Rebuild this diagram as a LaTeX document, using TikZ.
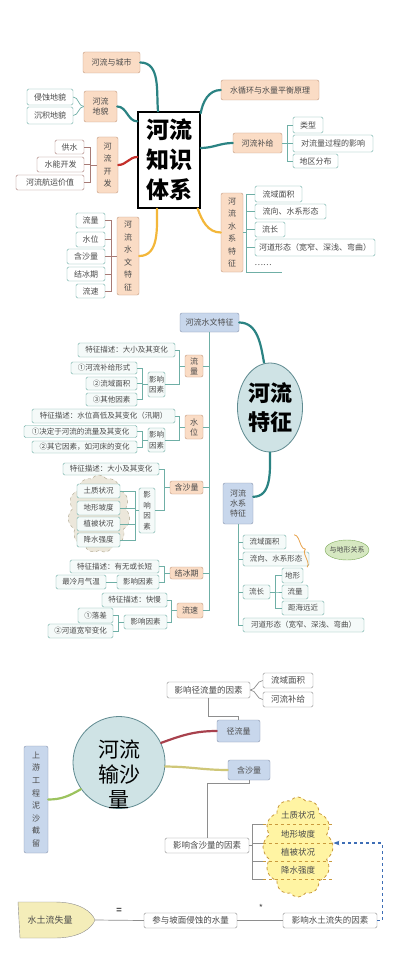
\documentclass[tikz,border=0pt]{standalone}
\usepackage{fontspec}
\setmainfont{Noto Sans CJK SC}
\usepackage{xcolor}
\usepackage{tikz}
\usetikzlibrary{shapes.geometric, shapes.symbols, arrows.meta, positioning, calc, decorations.pathreplacing}

\definecolor{texto}{HTML}{4A4A4A}
\definecolor{pessego}{HTML}{FADCC5}
\definecolor{pessegoborda}{HTML}{C39A7E}
\definecolor{verdeagua}{HTML}{6FAFA6}
\definecolor{folhafundo}{HTML}{F5FAF9}
\definecolor{vinhoborda}{HTML}{A77B76}
\definecolor{azulfundo}{HTML}{C8D7EC}
\definecolor{azulborda}{HTML}{8795AE}
\definecolor{cinzaborda}{HTML}{8E8E8E}
\definecolor{ramoteal}{HTML}{2B8383}
\definecolor{ramovermelho}{HTML}{C4302B}
\definecolor{ramoamarelo}{HTML}{F3B73A}
\definecolor{nuvemfundo}{HTML}{ECE7DB}
\definecolor{nuvemborda}{HTML}{ACA38B}
\definecolor{nuvemamarela}{HTML}{FFF4A3}
\definecolor{nuvemamarelaborda}{HTML}{C99A3D}
\definecolor{verdefundo}{HTML}{D6E8C1}
\definecolor{verdeborda}{HTML}{7FAA5C}
\definecolor{circulofundo}{HTML}{CFE3E5}
\definecolor{circuloborda}{HTML}{5F8A90}
\definecolor{chaveborda}{HTML}{E8A24A}
\definecolor{perdafundo}{HTML}{F4EDB9}
\definecolor{setaazul}{HTML}{3E6EB6}
\definecolor{ramovinho}{HTML}{A8414D}
\definecolor{ramooliva}{HTML}{CFC778}
\definecolor{ramoverde}{HTML}{9CC35E}

\begin{document}
\begin{tikzpicture}[x=1pt, y=-1pt,
        every node/.style={align=center, font=\fontsize{8}{10}\selectfont, text=texto, inner sep=1pt},
        vert/.style={font=\fontsize{8}{12.5}\selectfont},
        raiz/.style={draw=black, line width=1.3pt, fill=white, text=black},
        ramo/.style={draw=pessegoborda, fill=pessego, rounded corners=2pt},
        folha/.style={draw=verdeagua, fill=white, rounded corners=1.5pt},
        folhav/.style={draw=vinhoborda, fill=white, rounded corners=1.5pt},
        folhap/.style={draw=verdeagua, fill=folhafundo, rounded corners=1.5pt, font=\fontsize{7.5}{10.5}\selectfont},
        azul/.style={draw=azulborda, fill=azulfundo, rounded corners=2pt},
        cinza/.style={draw=cinzaborda, fill=white, rounded corners=1.5pt, font=\fontsize{8.5}{10}\selectfont},
        nuvem/.style={cloud, cloud puffs=11, cloud puff arc=110, aspect=0.8, draw=nuvemborda, dashed, fill=nuvemfundo},
        nuvemb/.style={cloud, cloud puffs=12, cloud puff arc=110, aspect=0.7, draw=nuvemamarelaborda, dashed, thick, fill=nuvemamarela},
        galho/.style={line width=2.2pt, line cap=round},
        fio/.style={draw=verdeagua, line width=0.7pt},
        fiov/.style={draw=vinhoborda, line width=0.7pt},
        fioc/.style={draw=cinzaborda, line width=0.7pt},
        seta/.style={-{Stealth[length=6pt]}, setaazul, dashed, line width=1.3pt}
    ]
    \fill[white] (0,0) rectangle (401,960);
    \useasboundingbox (0,0) rectangle (401,960);

    % mapa geral
    \node[raiz, minimum width=62, minimum height=96, font=\fontsize{23}{30}\selectfont\bfseries] (sistema) at (169,160) {河流\\知识\\体系};
    \node[ramo, minimum width=57, minimum height=21] (cidade) at (111.5,62.5) {河流与城市};
    \node[ramo, minimum width=33, minimum height=31] (relevo) at (100.5,106.5) {河流\\地貌};
    \node[folha, minimum width=46, minimum height=16] (erosao) at (50,97) {侵蚀地貌};
    \node[folha, minimum width=46, minimum height=17] (deposito) at (50,115.5) {沉积地貌};
    \node[ramo, vert, minimum width=21, minimum height=56] (uso) at (107.5,165) {河\\流\\开\\发};
    \node[folhav, minimum width=29, minimum height=14] (agua) at (69.5,147) {供水};
    \node[folhav, minimum width=47, minimum height=15] (energia) at (60.5,164.5) {水能开发};
    \node[folhav, minimum width=68, minimum height=15] (navega) at (50,182.5) {河流航运价值};
    \node[ramo, vert, minimum width=22, minimum height=78] (hidro) at (128,256) {河\\流\\水\\文\\特\\征};
    \node[folha, minimum width=29, minimum height=15] (vazao) at (90.5,220.5) {流量};
    \node[folha, minimum width=29, minimum height=15] (nivel) at (90.5,239.5) {水位};
    \node[folha, minimum width=38, minimum height=15] (sedim) at (86,256.5) {含沙量};
    \node[folha, minimum width=38, minimum height=14] (gelo) at (86,274) {结冰期};
    \node[folha, minimum width=29, minimum height=14] (veloc) at (90.5,291) {流速};
    \node[ramo, minimum width=98, minimum height=20] (ciclo) at (270,90) {水循环与水量平衡原理};
    \node[ramo, minimum width=49, minimum height=20] (recarga) at (257.5,143) {河流补给};
    \node[folha, minimum width=30, minimum height=16] (tipo) at (308,125) {类型};
    \node[folha, minimum width=80, minimum height=17] (efeito) at (333,143.5) {对流量过程的影响};
    \node[folha, minimum width=45, minimum height=14] (regiao) at (315.5,161) {地区分布};
    \node[ramo, vert, minimum width=22, minimum height=79] (sistemas) at (232,232.5) {河\\流\\水\\系\\特\\征};
    \node[folha, minimum width=47, minimum height=16] (area) at (278.5,194) {流域面积};
    \node[folha, minimum width=71, minimum height=15] (direcao) at (290.5,211.5) {流向、水系形态};
    \node[folha, minimum width=30, minimum height=15] (compr) at (270,229.5) {流长};
    \node[folha, minimum width=120, minimum height=17] (canal) at (315,247.5) {河道形态（宽窄、深浅、弯曲）};
    \node (etc) at (263,265) {……};
    \coordinate (fimetc) at (282,272);

    \draw[galho, ramoteal] (cidade.east) to[out=0, in=95] ($(sistema.north)+(-11,0)$);
    \draw[galho, ramoteal] (relevo.east) to[out=0, in=180] ($(sistema.north west)+(0,10)$);
    \draw[galho, ramovermelho] (uso.east) to[out=0, in=180] ($(sistema.west)+(0,-3)$);
    \draw[galho, ramoamarelo] (hidro.east) to[out=0, in=-90] ($(sistema.south)+(-12,0)$);
    \draw[galho, ramoteal] ($(sistema.north east)+(0,2)$) to[out=80, in=180] (ciclo.west);
    \draw[galho, ramoteal] ($(sistema.east)+(0,-12)$) to[out=0, in=180] (recarga.west);
    \draw[galho, ramoamarelo] ($(sistema.south east)+(-3,0)$) to[out=-70, in=180] (sistemas.west);
    \foreach \n in {erosao, deposito}
        \draw[fio] (\n.east) to[out=0, in=180] (relevo.west);
    \foreach \n in {agua, energia, navega}
        \draw[fiov] (\n.east) -- ++(6,0) |- (uso.west);
    \foreach \n in {vazao, nivel, sedim, gelo, veloc}
        \draw[fiov] (\n.east) -- ++(6,0) |- (hidro.west);
    \foreach \n in {tipo, efeito, regiao}
        \draw[fio] (recarga.east) -- ++(5,0) |- (\n.west);
    \draw[fio] (sistemas.east) -- ++(4,0);
    \foreach \n in {area, direcao, compr, canal}
        \draw[fio] (\n.west) -- ++(-8,0);
    \draw[fio] ($(area.west)+(-8,0)$) |- (fimetc);

    % caracteristicas
    \node[azul, minimum width=59, minimum height=19] (cabeca) at (209.5,322.5) {河流水文特征};
    \node[ellipse, draw=circuloborda, fill=circulofundo, thick, minimum width=65, minimum height=89, text=black,
        font=\fontsize{22}{29}\selectfont\bfseries] (carac) at (270,407.5) {河流\\特征};
    \node[ramo, font=\fontsize{8}{10}\selectfont, minimum width=18, minimum height=22] (vazao2) at (194,366) {流\\量};
    \node[ramo, font=\fontsize{8}{10}\selectfont, minimum width=18, minimum height=24] (nivel2) at (194,427) {水\\位};
    \node[ramo, minimum width=33, minimum height=13] (sed2) at (186.5,487.5) {含沙量};
    \node[ramo, minimum width=33, minimum height=12] (gelo2) at (186.5,573) {结冰期};
    \node[ramo, minimum width=26, minimum height=15] (velo2) at (190,610.5) {流速};

    \node[folhap, minimum width=97, minimum height=14] (d1) at (126.5,350) {特征描述：大小及其变化};
    \node[folhap, minimum width=66, minimum height=12] (f11) at (104,368) {①河流补给形式};
    \node[folhap, minimum width=51, minimum height=13] (f12) at (111.5,383.5) {②流域面积};
    \node[folhap, minimum width=51, minimum height=13] (f13) at (111.5,399.5) {③其他因素};
    \node[folhap, minimum width=17, minimum height=25] (i1) at (156.5,384.5) {影响\\因素};

    \node[folhap, minimum width=143, minimum height=14] (d2) at (103.5,416) {特征描述：水位高低及其变化（汛期）};
    \node[folhap, minimum width=113, minimum height=12] (f21) at (80.5,431.5) {①决定于河流的流量及其变化};
    \node[folhap, minimum width=105, minimum height=12] (f22) at (84.5,447) {②其它因素，如河床的变化};
    \node[folhap, minimum width=17, minimum height=24] (i2) at (156.5,440) {影响\\因素};

    \node[folhap, minimum width=96, minimum height=12] (d3) at (111,469) {特征描述：大小及其变化};
    \node[nuvem, minimum width=62, minimum height=78] (nuv1) at (99,514) {};
    \node[folhap, minimum width=43, minimum height=14] (s1) at (98.5,491) {土质状况};
    \node[folhap, minimum width=43, minimum height=14] (s2) at (98.5,508) {地形坡度};
    \node[folhap, minimum width=43, minimum height=14] (s3) at (98.5,524) {植被状况};
    \node[folhap, minimum width=43, minimum height=14] (s4) at (98.5,540) {降水强度};
    \node[folhap, minimum width=16, minimum height=45] (i3) at (147,510.5) {影\\响\\因\\素};

    \node[folhap, minimum width=89, minimum height=13] (d4) at (114.5,566.5) {特征描述：有无或长短};
    \node[folhap, minimum width=50, minimum height=14] (t4) at (81,582) {最冷月气温};
    \node[folhap, minimum width=42, minimum height=14] (i4) at (138,582) {影响因素};

    \node[folhap, minimum width=65, minimum height=14] (d5) at (134.5,600) {特征描述：快慢};
    \node[folhap, minimum width=35, minimum height=15] (q1) at (95.5,615.5) {①落差};
    \node[folhap, minimum width=65, minimum height=14] (q2) at (80.5,631) {②河道宽窄变化};
    \node[folhap, minimum width=43, minimum height=14] (i5) at (145.5,622) {影响因素};

    \node[azul, minimum width=30, minimum height=41] (rede) at (238,503.5) {河流\\水系\\特征};
    \node[folhap, minimum width=43, minimum height=14] (area2) at (264.5,542) {流域面积};
    \node[folhap, minimum width=66, minimum height=14] (dir2) at (276,559) {流向、水系形态};
    \node[folhap, minimum width=27, minimum height=14] (comp2) at (256.5,592) {流长};
    \node[folhap, minimum width=21, minimum height=15] (g1) at (292.5,575.5) {地形};
    \node[folhap, minimum width=26, minimum height=14] (g2) at (295,592) {流量};
    \node[folhap, minimum width=42, minimum height=14] (g3) at (303,608) {距海远近};
    \node[folhap, minimum width=121, minimum height=14] (canal2) at (303.5,625) {河道形态（宽窄、深浅、弯曲）};
    \node[ellipse, draw=verdeborda, fill=verdefundo, inner xsep=-2pt, minimum width=42, minimum height=20,
        font=\fontsize{7}{8}\selectfont] (relacao) at (347,550) {与地形关系};
    \draw[chaveborda, thick, decorate, decoration={brace, amplitude=5pt}]
        ($(area2.north east)+(8,0)$) -- ($(dir2.south east)+(-2,1)$);

    \draw[galho, ramoteal] (cabeca.east) to[out=0, in=100] ($(carac.north)+(-6,0)$);
    \draw[galho, ramoteal] (carac.south) to[out=-90, in=0] ($(rede.north east)+(0,14)$);
    \draw[fio] (cabeca.south) -- (cabeca.south |- velo2.east);
    \foreach \n in {vazao2, nivel2, sed2, gelo2, velo2}
        \draw[fio] (\n.east) -- (cabeca.south |- \n.east);
    \foreach \a/\b in {d1/vazao2, i1/vazao2, d2/nivel2, i2/nivel2, d3/sed2, d4/gelo2, i4/gelo2, d5/velo2, i5/velo2}
        \draw[fio] (\a.east) -| ($(\b.west)+(-5,0)$) -- (\b.west);
    \draw[fio] (i3.east) -| ($(sed2.west)+(-5,0)$) -- (sed2.west);
    \foreach \a/\b in {f11/i1, f12/i1, f13/i1, f21/i2, f22/i2, q1/i5, q2/i5}
        \draw[fio] (\a.east) -| ($(\b.west)+(-5,0)$) -- (\b.west);
    \foreach \a in {s1, s2, s3, s4}
        \draw[fio] (\a.east) -| ($(i3.west)+(-3,0)$) -- (i3.west);
    \draw[fio] (t4.east) -- (i4.west);
    \draw[fio] (rede.south) -- (rede.south |- canal2.west);
    \foreach \n in {area2, dir2, comp2, canal2}
        \draw[fio] (\n.west) -- (rede.south |- \n.west);
    \foreach \n in {g1, g2, g3}
        \draw[fio] (comp2.east) -| ($(\n.west)+(-6,0)$) -- (\n.west);

    % transporte de sedimentos
    \node[circle, draw=circuloborda, fill=circulofundo, thick, minimum size=92] (transp) at (119,762.5) {};
    \node[font=\fontsize{21}{25}\selectfont, text=black] (transpt) at (119,774) {河流\\输沙\\量};
    \node[azul, font=\fontsize{8}{12.6}\selectfont, minimum width=24, minimum height=107] (montante) at (36,799.5) {上\\游\\工\\程\\泥\\沙\\截\\留};
    \node[azul, minimum width=43, minimum height=22] (escoa) at (238.5,731) {径流量};
    \node[azul, minimum width=42, minimum height=20] (sedi) at (249,770) {含沙量};
    \node[cinza, minimum width=83, minimum height=16] (fjl) at (208.5,690) {影响径流量的因素};
    \node[cinza, minimum width=50, minimum height=15] (m1) at (288,680.5) {流域面积};
    \node[cinza, minimum width=50, minimum height=15] (m2) at (288,699.5) {河流补给};
    \node[cinza, minimum width=84, minimum height=15] (fhs) at (207,845.5) {影响含沙量的因素};
    \node[nuvemb, minimum width=70, minimum height=100] (nuv2) at (298,847) {};
    \node[minimum width=70, minimum height=18, font=\fontsize{8.5}{10}\selectfont] (r1) at (298,815) {土质状况};
    \node[minimum width=70, minimum height=18, font=\fontsize{8.5}{10}\selectfont] (r2) at (298,834) {地形坡度};
    \node[minimum width=70, minimum height=18, font=\fontsize{8.5}{10}\selectfont] (r3) at (298,852) {植被状况};
    \node[minimum width=70, minimum height=18, font=\fontsize{8.5}{10}\selectfont] (r4) at (298,870) {降水强度};

    \draw[galho, ramoverde] (transp.215) to[out=210, in=0] (montante.east);
    \draw[galho, ramovinho] (transp.25) to[out=20, in=180] (escoa.west);
    \draw[galho, ramooliva] (transp.-5) to[out=0, in=180] (sedi.west);
    \foreach \n in {m1, m2}
        \draw[fioc] (fjl.east) to[out=0, in=180] (\n.west);
    \draw[fioc] (fjl.south) |- ($(escoa.north)+(0,-3)$) -- (escoa.north);
    \draw[fioc] (sedi.south) -- ++(0,3) -| (fhs.north);
    \foreach \n in {r1, r2, r3, r4} {
        \draw[fioc] (fhs.east) -| ($(\n.south west)+(-10,0)$) -- (\n.south west);
        \draw[nuvemamarelaborda, dashed, thick] (\n.south west) -- (\n.south east);
    }

    \coordinate (ponta) at (95,920);
    \draw[cinzaborda, fill=perdafundo] (18,902) -- (55,902)
        .. controls (80,902) and (92,912) .. (ponta)
        .. controls (92,928) and (80,938) .. (55,938) -- (20,938) -- cycle;
    \node[font=\fontsize{9}{10}\selectfont] (perda) at (50,920) {水土流失量};
    \node[font=\fontsize{9}{10}\selectfont\bfseries] (igual) at (119,911) {=};
    \node[cinza, minimum width=93, minimum height=15] (agua3) at (190.5,920.5) {参与坡面侵蚀的水量};
    \node[font=\fontsize{9}{10}\selectfont] (vezes) at (261,908) {*};
    \node[cinza, minimum width=94, minimum height=15] (fatores) at (330,920.5) {影响水土流失的因素};
    \draw[fioc] (ponta) -- (agua3.west);
    \draw[fioc] (agua3.east) -- (fatores.west);
    \draw[seta] (fatores.east) -- ++(5,0) |- ($(nuv2.east)+(0,-4)$);
\end{tikzpicture}
\end{document}
